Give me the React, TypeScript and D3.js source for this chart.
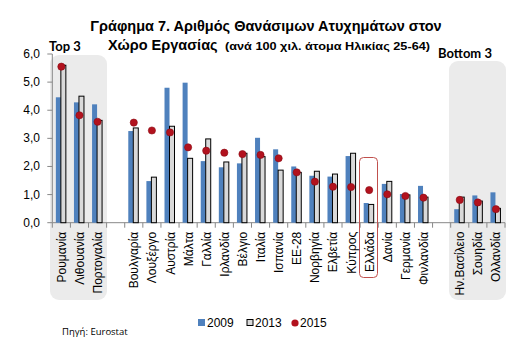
import React from "react";
import * as d3 from "d3";

const categories = ["Ρουμανία","Λιθουανία","Πορτογαλία","","Βουλγαρία","Λουξέργο","Αυστρία","Μάλτα","Γαλλία","Ιρλανδία","Βέλγιο","Ιταλία","Ισπανία","ΕΕ-28","Νορβηγία","Ελβετία","Κύπρος","Ελλάδα","Δανία","Γερμανία","Φινλανδία","","Ην.Βασίλειο","Σουηδία","Ολλανδία"];
const v2009 = [4.46,4.28,4.21,null,3.26,1.48,4.8,4.98,2.19,1.97,2.11,3.02,2.61,2.0,1.67,1.64,2.37,0.7,1.38,1.02,1.31,null,0.48,0.97,1.08];
const v2013 = [5.6,4.5,3.64,null,3.37,1.62,3.43,2.29,2.98,2.16,2.47,2.35,1.87,1.79,1.83,1.73,2.47,0.65,1.47,0.99,0.91,null,0.91,0.77,0.51];
const v2015 = [5.55,3.82,3.59,null,3.56,3.28,3.21,2.68,2.56,2.49,2.44,2.41,2.29,1.79,1.46,1.28,1.27,1.16,1.01,0.95,0.89,null,0.81,0.72,0.48];
const yTicks = [0,1,2,3,4,5,6];
const seriesNames = ["2009","2013","2015"];

export default function App() {
  const W = 525, H = 359;
  const x0 = 52.3, x1 = 505;
  const x = d3.scaleBand<number>().domain(d3.range(categories.length)).range([x0, x1]).paddingInner(0).paddingOuter(0);
  const y = d3.scaleLinear().domain([0, 6]).range([222.7, 54]);
  const bw = x.bandwidth();
  const fmt = (v: number) => v.toFixed(1).replace(".", ",");
  const panel = "#ebebeb";
  const font = "Arial, 'Liberation Sans', sans-serif";
  const cx = (i: number) => (x(i) as number) + bw / 2;

  return (
    <svg width={W} height={H} style={{ position: "absolute", left: 0, top: 0, background: "#fff" }}>
      {/* panels */}
      <rect x={50} y={55} width={57} height={245} rx={9} fill={panel} />
      <rect x={449} y={61} width={57} height={239} rx={9} fill={panel} />
      {/* title */}
      <text x={266} y={31} textAnchor="middle" fontFamily={font} fontWeight="bold" fontSize={14.5}>Γράφημα 7. Αριθμός Θανάσιμων Ατυχημάτων στον</text>
      <text x={108} y={50} textAnchor="start" fontFamily={font} fontWeight="bold" fontSize={14.5}>Χώρο Εργασίας</text>
      <text x={225} y={50} textAnchor="start" fontFamily={font} fontWeight="bold" fontSize={11.5} textLength={205} lengthAdjust="spacingAndGlyphs">(ανά 100 χιλ. άτομα Ηλικίας 25-64)</text>
      <text x={49} y={51} fontFamily="Lato, 'Open Sans', sans-serif" fontWeight="bold" fontSize={13}>Top 3</text>
      <text x={438} y={58} fontFamily="Lato, 'Open Sans', sans-serif" fontWeight="bold" fontSize={13}>Bottom 3</text>
      {/* y axis */}
      <line x1={x0} x2={x0} y1={y(6)} y2={y(0)} stroke="#888" />
      {yTicks.map(t => (
        <g key={t}>
          <line x1={x0 - 5} x2={x0} y1={y(t)} y2={y(t)} stroke="#888" />
          <text x={40} y={y(t) + 4} textAnchor="end" fontFamily={font} fontSize={12}>{fmt(t)}</text>
        </g>
      ))}
      {/* x axis */}
      <line x1={x0} x2={x1} y1={y(0)} y2={y(0)} stroke="#888" />
      {d3.range(categories.length + 1).map(i => {
        const xx = x0 + i * bw;
        return <line key={i} x1={xx} x2={xx} y1={y(0)} y2={y(0) + 5} stroke="#888" />;
      })}
      {/* bars */}
      {categories.map((c, i) => {
        if (v2009[i] == null) return null;
        const c0 = cx(i);
        return (
          <g key={i}>
            <rect x={c0 - 5.5} y={y(v2009[i] as number)} width={5} height={y(0) - y(v2009[i] as number)} fill="#4f81bd" />
            <rect x={c0 - 0.5} y={y(v2013[i] as number)} width={5} height={y(0) - y(v2013[i] as number)} fill="#d9d9d9" stroke="#000" strokeWidth={1} />
          </g>
        );
      })}
      {categories.map((c, i) => v2015[i] == null ? null : (
        <circle key={i} cx={cx(i)} cy={y(v2015[i] as number)} r={3.6} fill="#b2121e" stroke="#8c0a12" strokeWidth={0.6} />
      ))}
      {/* Greece highlight */}
      <rect x={359.5} y={157.5} width={18} height={120} rx={4} fill="none" stroke="#c0504d" strokeWidth={1} />
      {/* category labels */}
      {categories.map((c, i) => (
        <text key={i} transform={`translate(${cx(i) + 4.5},${y(0) + 9}) rotate(-90)`} textAnchor="end" fontFamily={font} fontSize={12}>{c}</text>
      ))}
      {/* legend */}
      <rect x={198} y={319} width={7} height={7} fill="#4f81bd" />
      <text x={207} y={327} fontFamily={font} fontSize={12}>{seriesNames[0]}</text>
      <rect x={247} y={319.5} width={6} height={6} fill="#d9d9d9" stroke="#000" strokeWidth={1} />
      <text x={255} y={327} fontFamily={font} fontSize={12}>{seriesNames[1]}</text>
      <circle cx={295} cy={323} r={3.6} fill="#b2121e" />
      <text x={300} y={327} fontFamily={font} fontSize={12}>{seriesNames[2]}</text>
      {/* source */}
      <text x={62} y={335} fontFamily="'Open Sans', 'Noto Sans', sans-serif" fontSize={9.5}>Πηγή: Eurostat</text>
    </svg>
  );
}
